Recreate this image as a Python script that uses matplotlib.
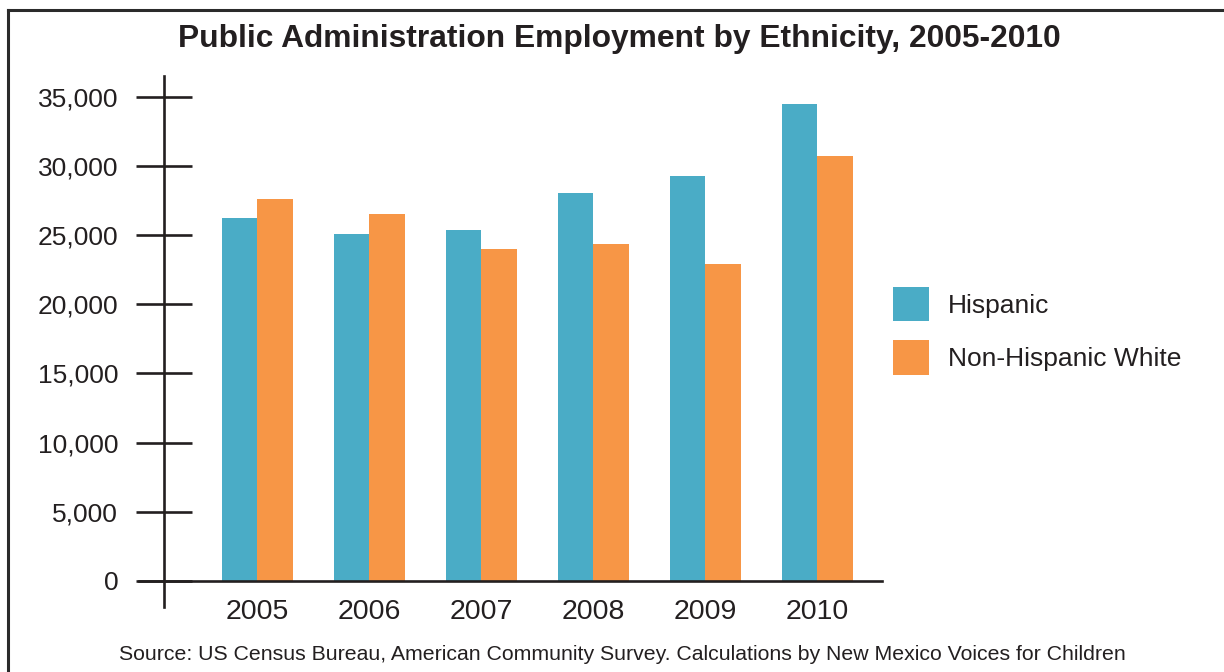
import numpy as np
import matplotlib
matplotlib.use("Agg")
import matplotlib.pyplot as plt
from matplotlib.lines import Line2D
from matplotlib.ticker import FuncFormatter

years = ["2005", "2006", "2007", "2008", "2009", "2010"]
hispanic = [26250, 25100, 25400, 28050, 29300, 34500]
non_hispanic_white = [27600, 26550, 24000, 24350, 22900, 30750]
series_labels = ["Hispanic", "Non-Hispanic White"]
y_ticks = [0, 5000, 10000, 15000, 20000, 25000, 30000, 35000]

TEAL = "#4AACC6"
ORANGE = "#F79646"
INK = "#231F20"

plt.rcParams["font.family"] = ["Liberation Sans", "DejaVu Sans"]

W, H = 1224, 672
fig = plt.figure(figsize=(W / 100, H / 100), dpi=100)

# axes box in pixel terms: x 139..882, y 76..607
ax = fig.add_axes([139 / W, 1 - 607 / H, (882 - 139) / W, (607 - 76) / H])

x = np.arange(len(years))
bw = 0.317
ax.bar(x - bw / 2, hispanic, bw, color=TEAL, label=series_labels[0], linewidth=0)
ax.bar(x + bw / 2, non_hispanic_white, bw, color=ORANGE, label=series_labels[1], linewidth=0)

ax.set_xlim(-1.054, 5.58)
ax.set_ylim(-1903, 36520)

for side in ("top", "right"):
    ax.spines[side].set_visible(False)
ax.spines["left"].set_position(("data", -0.83))
ax.spines["bottom"].set_position(("data", 0))
for side in ("left", "bottom"):
    ax.spines[side].set_color(INK)
    ax.spines[side].set_linewidth(1.9)

ax.set_yticks(y_ticks)
ax.yaxis.set_major_formatter(FuncFormatter(lambda v, _: f"{int(v):,}"))
ax.tick_params(axis="y", direction="inout", length=40, width=1.9, color=INK,
               pad=13, labelsize=19, labelcolor=INK)
ax.set_xticks(x)
ax.set_xticklabels(years)
ax.tick_params(axis="x", length=0, pad=13, labelsize=20.5, labelcolor=INK)

ax.legend(loc="upper left", bbox_to_anchor=(893 / W, 1 - 287 / H),
          bbox_transform=fig.transFigure, frameon=False, fontsize=19,
          handlelength=1.36, handleheight=1.63, handletextpad=0.72,
          labelspacing=0.72, borderpad=0, borderaxespad=0, labelcolor=INK)

fig.text(619.5 / W, 1 - 39 / H,
         "Public Administration Employment by Ethnicity, 2005-2010",
         ha="center", va="center", fontsize=22.9, fontweight="bold", color=INK)
fig.text(622 / W, 1 - 655 / H,
         "Source: US Census Bureau, American Community Survey. "
         "Calculations by New Mexico Voices for Children",
         ha="center", va="center", fontsize=15.3, color=INK)

# frame lines along the top and left edges
fig.add_artist(Line2D([8 / W, 1], [1 - 10 / H, 1 - 10 / H],
                      transform=fig.transFigure, color="#2B2B2B", linewidth=2.2))
fig.add_artist(Line2D([8 / W, 8 / W], [0, 1 - 10 / H],
                      transform=fig.transFigure, color="#2B2B2B", linewidth=2.2))

fig.savefig("out.png", dpi=100)
plt.close(fig)
